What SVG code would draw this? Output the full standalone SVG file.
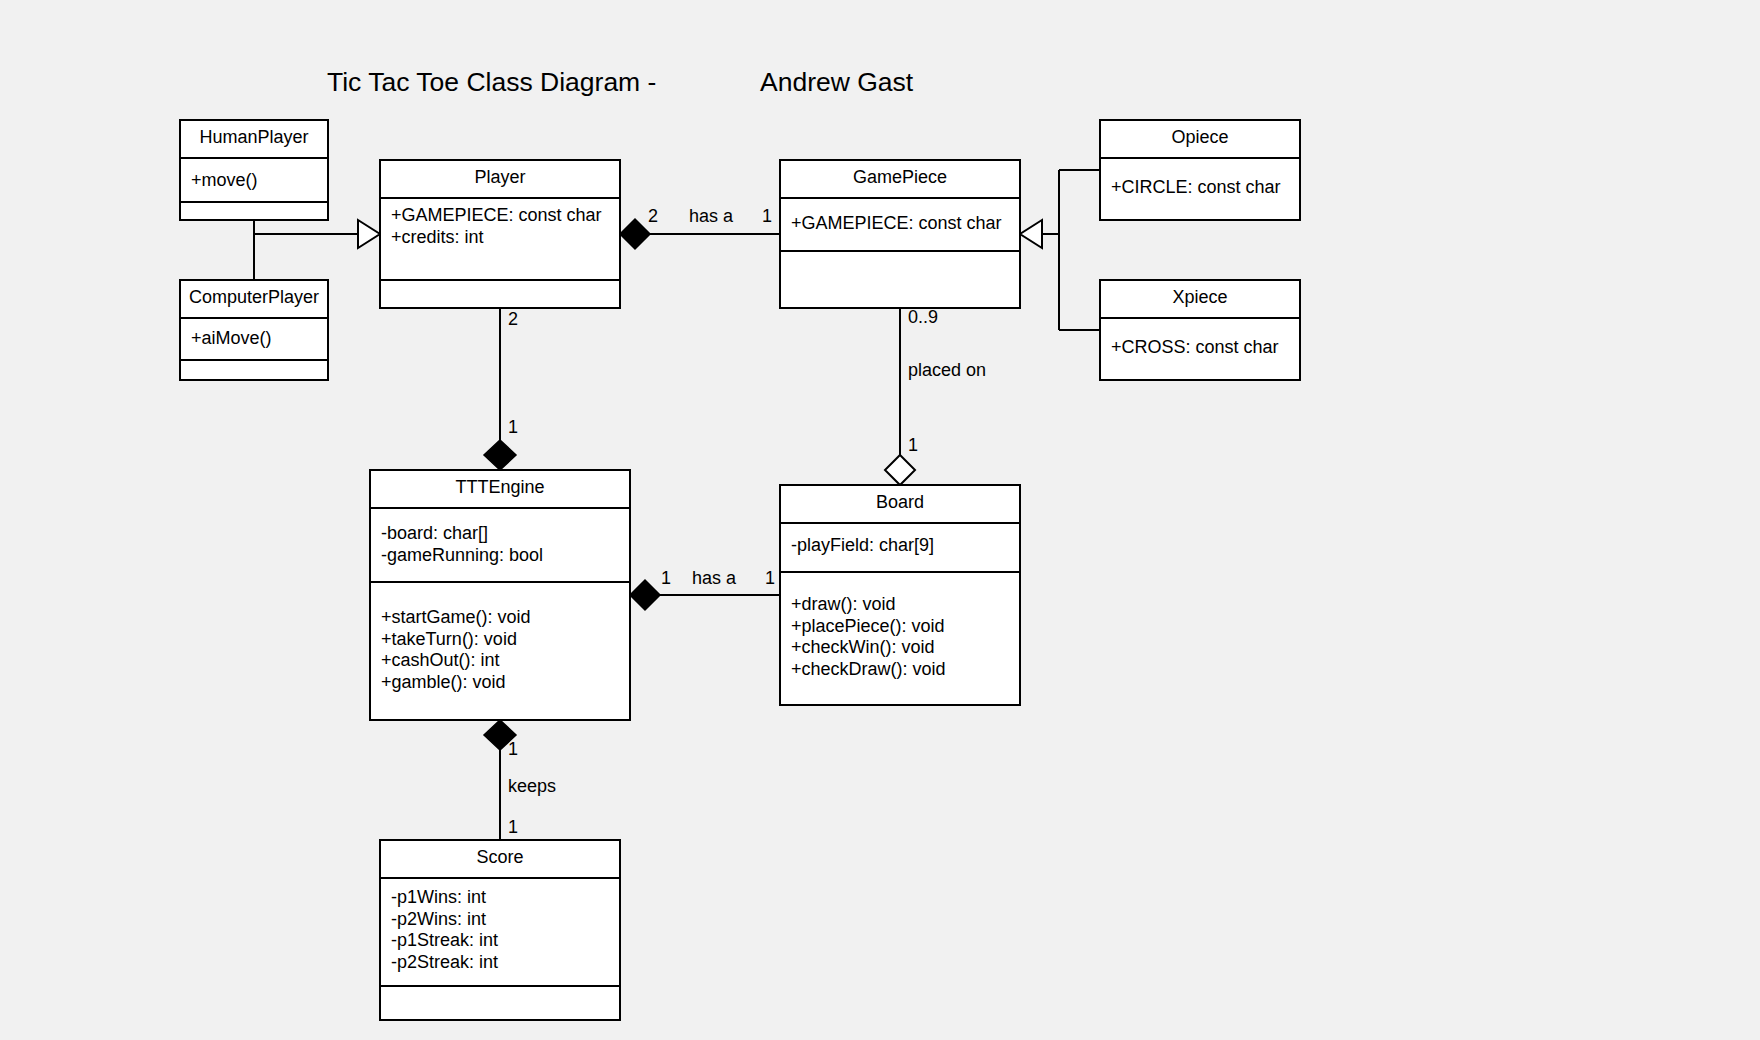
<svg xmlns="http://www.w3.org/2000/svg" width="1760" height="1040" viewBox="0 0 1760 1040">
<style>
text{font-family:"Liberation Sans",Arial,sans-serif;font-size:18px;fill:#000}
.title{font-size:26.5px}
.box{fill:#fff;stroke:#000;stroke-width:2}
.div{stroke:#000;stroke-width:2}
.hd{text-anchor:middle}
.ln{fill:none;stroke:#000;stroke-width:2}
.fd{fill:#000;stroke:#000;stroke-width:1.5}
.hw{fill:#fff;stroke:#000;stroke-width:2}
</style>
<rect x="0" y="0" width="1760" height="1040" fill="#f1f1f1"/>
<text class="title" x="327" y="91">Tic Tac Toe Class Diagram -</text>
<text class="title" x="760" y="91">Andrew Gast</text>

<g id="connectors">
  <path class="ln" d="M254 220 V280 M254 234 H358"/>
  <polygon class="hw" points="358,220 380,234 358,248"/>
  <path class="ln" d="M650 234 H780"/>
  <polygon class="fd" points="620,234 635,219 650,234 635,249"/>
  <text x="648" y="222">2</text>
  <text x="689" y="222">has a</text>
  <text x="762" y="222">1</text>
  <path class="ln" d="M1042 234 H1059 M1059 170 V330 M1059 170 H1100 M1059 330 H1100"/>
  <polygon class="hw" points="1042,220 1020,234 1042,248"/>
  <path class="ln" d="M500 308 V440"/>
  <polygon class="fd" points="500,440 516,455 500,470 484,455"/>
  <text x="508" y="325">2</text>
  <text x="508" y="433">1</text>
  <path class="ln" d="M660 595 H780"/>
  <polygon class="fd" points="630,595 645,580 660,595 645,610"/>
  <text x="661" y="584">1</text>
  <text x="692" y="584">has a</text>
  <text x="765" y="584">1</text>
  <path class="ln" d="M900 308 V455"/>
  <polygon class="hw" points="900,455 915,470 900,485 885,470"/>
  <text x="908" y="323">0..9</text>
  <text x="908" y="376">placed on</text>
  <text x="908" y="451">1</text>
  <path class="ln" d="M500 750 V840"/>
  <polygon class="fd" points="500,720 516,735 500,750 484,735"/>
  <text x="508" y="755">1</text>
  <text x="508" y="792">keeps</text>
  <text x="508" y="833">1</text>
</g>

<g id="HumanPlayer">
  <rect class="box" x="180" y="120" width="148" height="100"/>
  <path class="div" d="M180 158 H328 M180 202 H328"/>
  <text class="hd" x="254" y="143">HumanPlayer</text>
  <text x="191" y="185.5">+move()</text>
</g>
<g id="ComputerPlayer">
  <rect class="box" x="180" y="280" width="148" height="100"/>
  <path class="div" d="M180 318 H328 M180 360 H328"/>
  <text class="hd" x="254" y="303">ComputerPlayer</text>
  <text x="191" y="344">+aiMove()</text>
</g>
<g id="Player">
  <rect class="box" x="380" y="160" width="240" height="148"/>
  <path class="div" d="M380 198 H620 M380 280 H620"/>
  <text class="hd" x="500" y="183">Player</text>
  <text x="391" y="221">+GAMEPIECE: const char</text>
  <text x="391" y="242.6">+credits: int</text>
</g>
<g id="GamePiece">
  <rect class="box" x="780" y="160" width="240" height="148"/>
  <path class="div" d="M780 198 H1020 M780 251 H1020"/>
  <text class="hd" x="900" y="183">GamePiece</text>
  <text x="791" y="229">+GAMEPIECE: const char</text>
</g>
<g id="Opiece">
  <rect class="box" x="1100" y="120" width="200" height="100"/>
  <path class="div" d="M1100 158 H1300"/>
  <text class="hd" x="1200" y="143">Opiece</text>
  <text x="1111" y="193">+CIRCLE: const char</text>
</g>
<g id="Xpiece">
  <rect class="box" x="1100" y="280" width="200" height="100"/>
  <path class="div" d="M1100 318 H1300"/>
  <text class="hd" x="1200" y="303">Xpiece</text>
  <text x="1111" y="353">+CROSS: const char</text>
</g>
<g id="TTTEngine">
  <rect class="box" x="370" y="470" width="260" height="250"/>
  <path class="div" d="M370 508 H630 M370 582 H630"/>
  <text class="hd" x="500" y="493">TTTEngine</text>
  <text x="381" y="539">-board: char[]</text>
  <text x="381" y="560.6">-gameRunning: bool</text>
  <text x="381" y="623">+startGame(): void</text>
  <text x="381" y="644.6">+takeTurn(): void</text>
  <text x="381" y="666.2">+cashOut(): int</text>
  <text x="381" y="687.8">+gamble(): void</text>
</g>
<g id="Board">
  <rect class="box" x="780" y="485" width="240" height="220"/>
  <path class="div" d="M780 523 H1020 M780 572 H1020"/>
  <text class="hd" x="900" y="508">Board</text>
  <text x="791" y="551">-playField: char[9]</text>
  <text x="791" y="610">+draw(): void</text>
  <text x="791" y="631.6">+placePiece(): void</text>
  <text x="791" y="653.2">+checkWin(): void</text>
  <text x="791" y="674.8">+checkDraw(): void</text>
</g>
<g id="Score">
  <rect class="box" x="380" y="840" width="240" height="180"/>
  <path class="div" d="M380 878 H620 M380 986 H620"/>
  <text class="hd" x="500" y="863">Score</text>
  <text x="391" y="903">-p1Wins: int</text>
  <text x="391" y="924.6">-p2Wins: int</text>
  <text x="391" y="946.2">-p1Streak: int</text>
  <text x="391" y="967.8">-p2Streak: int</text>
</g>
</svg>
